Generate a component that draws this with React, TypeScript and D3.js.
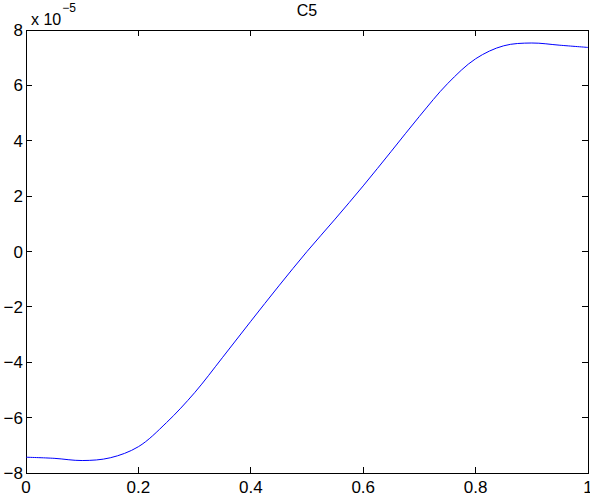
import React, { useEffect, useRef } from 'react';
import * as d3 from 'd3';

// curve samples (x, value in units of 1e-5)
const xs = [0, 0.05, 0.1, 0.15, 0.2, 0.25, 0.3, 0.35, 0.4, 0.45, 0.5, 0.55, 0.6, 0.65, 0.7, 0.75, 0.8, 0.85, 0.9, 0.95, 1.0];
const ys = [-7.43, -7.47, -7.55, -7.45, -7.05, -6.18, -5.1, -3.82, -2.52, -1.24, 0.0, 1.17, 2.37, 3.62, 4.88, 6.06, 6.96, 7.43, 7.53, 7.45, 7.37];
const xTicks = [0, 0.2, 0.4, 0.6, 0.8, 1];
const yTicks = [-8, -6, -4, -2, 0, 2, 4, 6, 8];
const title = 'C5';

const W = 590, H = 496;
const m = { left: 26, right: 2, top: 30, bottom: 23 };

export default function App() {
    const ref = useRef<SVGGElement>(null);

    useEffect(() => {
        const g = d3.select(ref.current);
        g.selectAll('*').remove();

        const x = d3.scaleLinear().domain([0, 1]).range([m.left, W - m.right]);
        const y = d3.scaleLinear().domain([-8, 8]).range([H - m.bottom, m.top]);
        const tl = 6;
        const font = 'Liberation Sans, Arial, Helvetica, sans-serif';

        // box
        g.append('rect')
            .attr('x', x(0)).attr('y', y(8))
            .attr('width', x(1) - x(0)).attr('height', y(-8) - y(8))
            .attr('fill', 'none').attr('stroke', '#000').attr('stroke-width', 1)
            .attr('shape-rendering', 'crispEdges');

        // x ticks, bottom & top
        xTicks.forEach(t => {
            g.append('line').attr('x1', x(t)).attr('x2', x(t)).attr('y1', y(-8)).attr('y2', y(-8) - tl)
                .attr('stroke', '#000').attr('shape-rendering', 'crispEdges');
            g.append('line').attr('x1', x(t)).attr('x2', x(t)).attr('y1', y(8)).attr('y2', y(8) + tl)
                .attr('stroke', '#000').attr('shape-rendering', 'crispEdges');
            g.append('text').attr('x', x(t)).attr('y', y(-8) + 20)
                .attr('text-anchor', 'middle').attr('font-family', font).attr('font-size', 17)
                .text(d3.format('')(t));
        });

        // y ticks, left & right
        yTicks.forEach(t => {
            g.append('line').attr('x1', x(0)).attr('x2', x(0) + tl).attr('y1', y(t)).attr('y2', y(t))
                .attr('stroke', '#000').attr('shape-rendering', 'crispEdges');
            g.append('line').attr('x1', x(1)).attr('x2', x(1) - tl).attr('y1', y(t)).attr('y2', y(t))
                .attr('stroke', '#000').attr('shape-rendering', 'crispEdges');
            g.append('text').attr('x', x(0) - 3).attr('y', y(t) + 6)
                .attr('text-anchor', 'end').attr('font-family', font).attr('font-size', 17)
                .text(t < 0 ? '\u2212' + Math.abs(t) : String(t));
        });

        // exponent label
        const ex = g.append('text').attr('x', 31).attr('y', 25).attr('font-family', font).attr('font-size', 16);
        ex.append('tspan').text('x 10');
        ex.append('tspan').attr('dx', 1).attr('dy', -13).attr('font-size', 12).text('\u22125');

        // title
        g.append('text').attr('x', (x(0) + x(1)) / 2).attr('y', 16)
            .attr('text-anchor', 'middle').attr('font-family', font).attr('font-size', 16)
            .text(title);

        const line = d3.line<number>()
            .x((d, i) => x(xs[i]))
            .y(d => y(d))
            .curve(d3.curveCatmullRom.alpha(0.5));

        g.append('path').datum(ys)
            .attr('d', line)
            .attr('fill', 'none').attr('stroke', '#0000ff').attr('stroke-width', 1);
    }, []);

    return (
        <svg width={W} height={H} style={{ position: 'absolute', left: 0, top: 0, background: '#fff' }}>
            <g ref={ref}></g>
        </svg>
    );
}
